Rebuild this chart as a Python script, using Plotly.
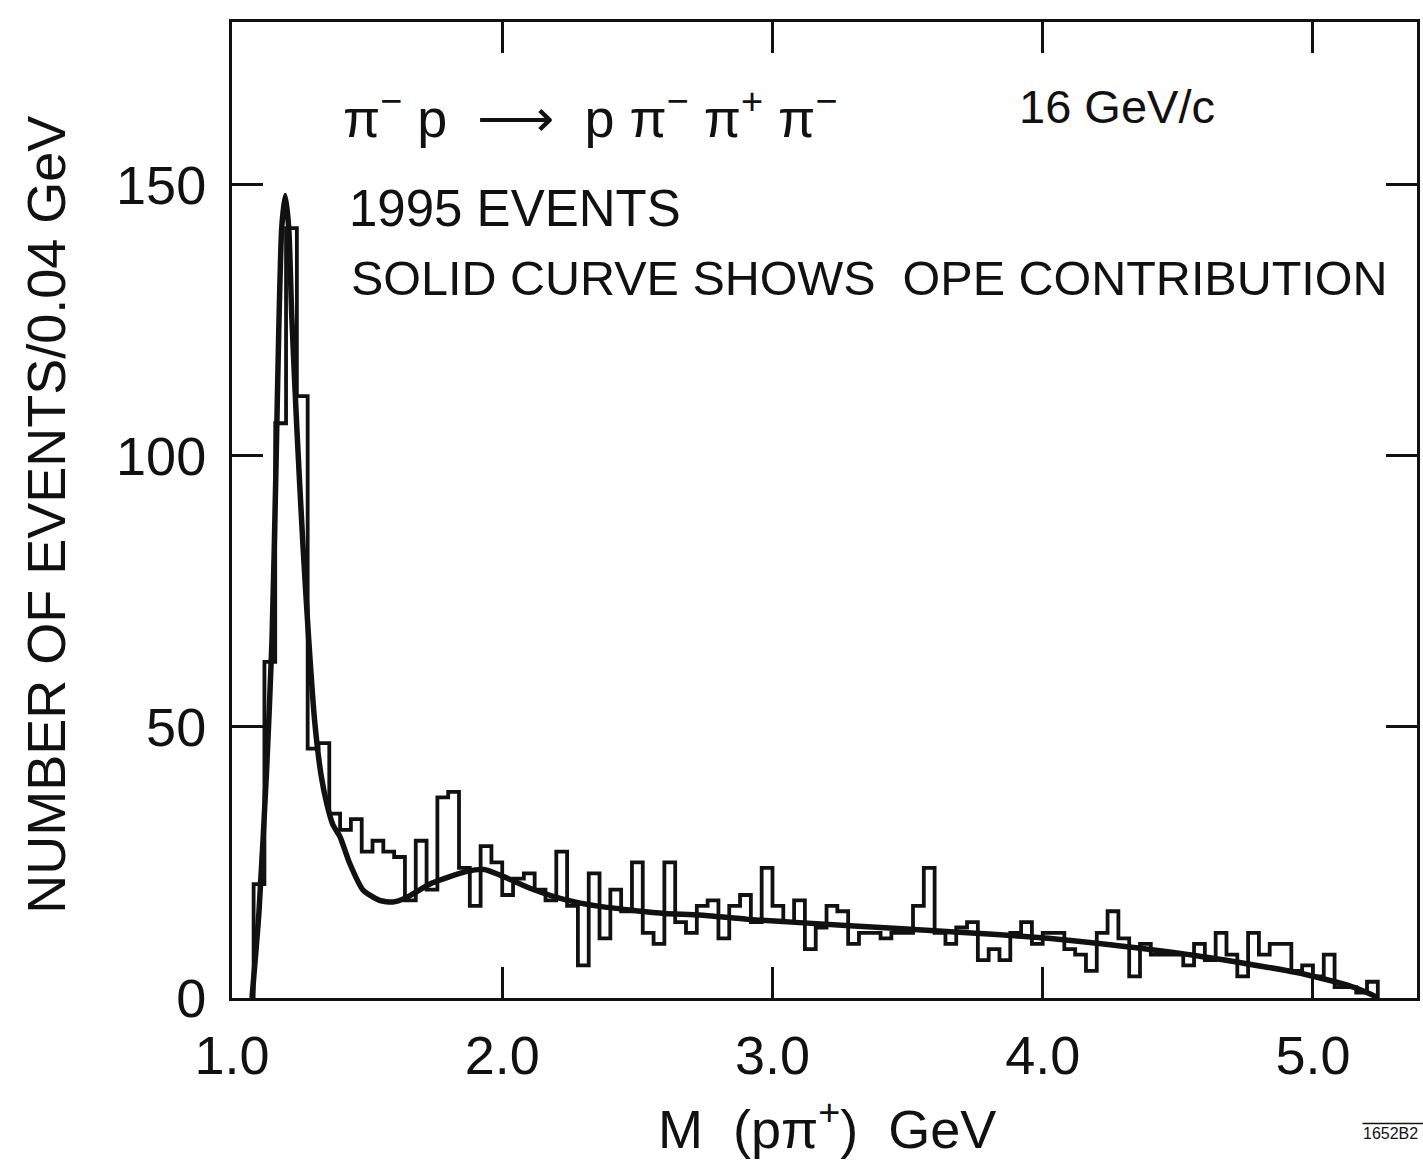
import plotly.graph_objects as go

# Histogram of M(p pi+) in 0.04 GeV bins, starting at 1.08 GeV
bin_start = 1.08
bin_width = 0.04
counts = [
    21, 62, 106, 142, 111, 46, 47, 34, 31, 33,
    27, 29, 27, 26, 18, 29, 20, 37, 38, 24,
    17, 28, 25, 19, 22, 23, 20, 18, 27, 17,
    6, 23, 11, 20, 16, 25, 12, 10, 25, 14,
    12, 17, 18, 11, 17, 19, 14, 24, 17, 14,
    18, 9, 13, 17, 16, 10, 12, 12, 11, 12,
    12, 17, 24, 12, 10, 13, 14, 7, 9, 7,
    12, 14, 10, 12, 12, 9, 8, 5, 12, 16,
    11, 4, 10, 8, 8, 8, 6, 10, 7, 12,
    8, 4, 12, 8, 10, 10, 5, 6, 4, 8,
    2, 2, 1, 3,
]

# OPE contribution (solid curve)
curve_m = [1.074, 1.10, 1.128, 1.148, 1.162, 1.173, 1.184, 1.197, 1.21, 1.221,
           1.24, 1.262, 1.284, 1.306, 1.33, 1.35, 1.373, 1.40, 1.435, 1.485,
           1.546, 1.595, 1.644, 1.74, 1.866, 1.933, 1.99, 2.11, 2.235, 2.36,
           2.48, 2.60, 2.73, 2.91, 3.10, 3.465, 3.83, 4.02, 4.20, 4.57,
           4.94, 5.125, 5.21, 5.235]
curve_v = [0, 16, 42, 66, 96, 123, 142, 148, 142, 126,
           105, 84, 66, 51, 41, 36, 32, 29.7, 24.9, 19.9,
           18, 17.7, 18.5, 21.2, 23.3, 23.7, 22.7, 20.1, 18.1, 16.9,
           16.2, 15.6, 15.3, 14.5, 13.9, 12.8, 11.7, 11, 10.1, 7.8,
           4.7, 2.4, 0.8, 0.2]

x_ticks = [1, 2, 3, 4, 5]
x_ticklabels = ["1.0", "2.0", "3.0", "4.0", "5.0"]
y_ticks = [0, 50, 100, 150]
y_ticklabels = ["0", "50", "100", "150"]

edges = [round(bin_start + bin_width * i, 2) for i in range(len(counts) + 1)]
step_x = [edges[0]] + edges[:-1] + [edges[-1]]
step_y = [0] + counts + [0]

FONT = "Liberation Sans, Arial, sans-serif"
INK = "#111111"

fig = go.Figure()
fig.add_trace(go.Scatter(
    x=step_x, y=step_y, mode="lines",
    line=dict(shape="hv", color=INK, width=3.8),
    hoverinfo="skip", showlegend=False,
))
fig.add_trace(go.Scatter(
    x=curve_m, y=curve_v, mode="lines",
    line=dict(shape="spline", smoothing=0.6, color=INK, width=5.5),
    hoverinfo="skip", showlegend=False,
))

axis_common = dict(
    showline=True, linecolor=INK, linewidth=3, mirror="ticks",
    ticks="inside", ticklen=31, tickwidth=3, tickcolor=INK,
    showgrid=False, zeroline=False,
    tickfont=dict(family=FONT, size=54, color=INK),
)

fig.update_xaxes(range=[1.0, 5.385], tickvals=x_ticks, ticktext=x_ticklabels,
                 ticklabelstandoff=8, **axis_common)
fig.update_yaxes(range=[0, 180], tickvals=y_ticks, ticktext=y_ticklabels,
                 ticklabelstandoff=12, **axis_common)

annotations = [
    dict(x=1.405, y=163, xref="x", yref="y", xanchor="left", yanchor="middle",
         text="π<sup>−</sup> p  ⟶  p π<sup>−</sup> π<sup>+</sup> π<sup>−</sup>",
         showarrow=False, font=dict(family=FONT, size=54, color=INK)),
    dict(x=3.905, y=164.5, xref="x", yref="y", xanchor="left", yanchor="middle",
         text="16 GeV/c", showarrow=False, font=dict(family=FONT, size=47, color=INK)),
    dict(x=1.425, y=145.6, xref="x", yref="y", xanchor="left", yanchor="middle",
         text="1995 EVENTS", showarrow=False, font=dict(family=FONT, size=51, color=INK)),
    dict(x=1.432, y=132.8, xref="x", yref="y", xanchor="left", yanchor="middle",
         text="SOLID CURVE SHOWS  OPE CONTRIBUTION", showarrow=False,
         font=dict(family=FONT, size=48.5, color=INK)),
    dict(x=0.5025, y=-0.130, xref="paper", yref="paper", xanchor="center", yanchor="middle",
         text="M  (pπ<sup>+</sup>)  GeV", showarrow=False,
         font=dict(family=FONT, size=54, color=INK)),
    dict(x=-0.157, y=0.495, xref="paper", yref="paper", xanchor="center", yanchor="middle",
         text="NUMBER OF EVENTS/0.04 GeV", textangle=-90, showarrow=False,
         font=dict(family=FONT, size=54, color=INK)),
    dict(x=0.953, y=-0.139, xref="paper", yref="paper", xanchor="left", yanchor="middle",
         text="1652B2", showarrow=False,
         font=dict(family=FONT, size=16, color=INK)),
]

fig.update_layout(
    width=1423, height=1163,
    margin=dict(l=232, r=3, t=22, b=165),
    paper_bgcolor="white", plot_bgcolor="white",
    annotations=annotations,
    showlegend=False,
)
fig.add_shape(type="line", xref="paper", yref="paper",
              x0=0.954, x1=1.01, y0=-0.1285, y1=-0.1285,
              line=dict(color=INK, width=1.5))

fig.write_html("out.html")
